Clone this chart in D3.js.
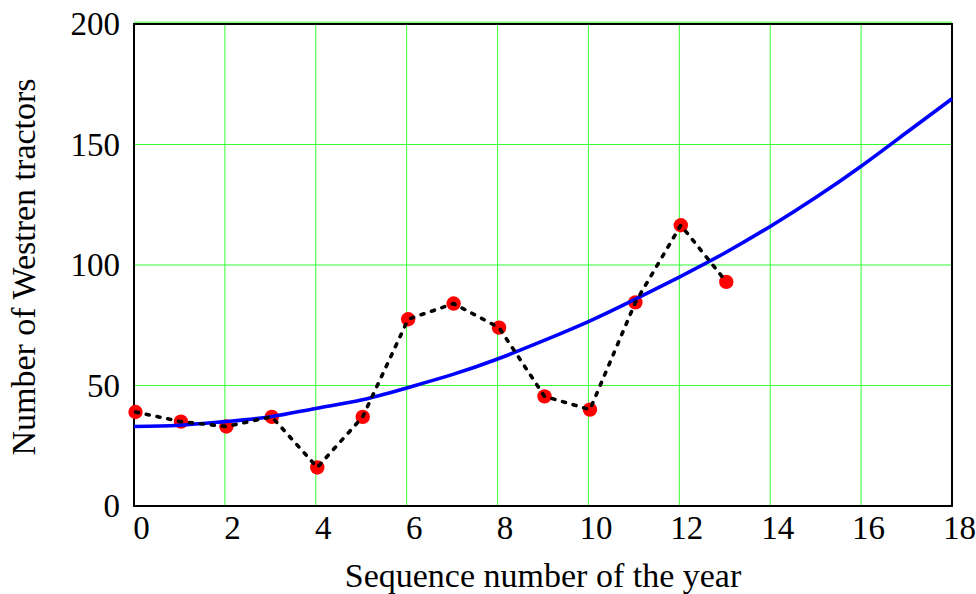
<!DOCTYPE html>
<html>
<head>
<meta charset="utf-8">
<script src="https://cdn.jsdelivr.net/npm/d3@7"></script>
<style>
body { margin: 0; background: #fff; }
text { font-family: "Liberation Serif", "Times New Roman", serif; fill: #000; }
</style>
</head>
<body>
<div id="vis"></div>
<script>
var w = 976,
    h = 594;

// observed counts per year
var years = [0, 1, 2, 3, 4, 5, 6, 7, 8, 9, 10, 11, 12, 13];
var tractors = [39, 35, 33, 37, 16, 37, 77.5, 84, 74, 45.5, 40, 84.5, 116.5, 93];

// fitted trend
var fitX = [0, 1, 2, 3, 4, 5, 6, 7, 8, 9, 10, 11, 12, 13, 14, 15, 16, 17, 18];
var fitY = [33, 33.5, 35, 37, 40.5, 44, 49, 54.5, 61, 68.5, 76.5, 85.5, 95, 105, 116, 128, 141, 155, 169];

var xTicks = [0, 2, 4, 6, 8, 10, 12, 14, 16, 18];
var yTicks = [0, 50, 100, 150, 200];

var m = {top: 24, right: 24, bottom: 88, left: 134};
var iw = w - m.left - m.right,
    ih = h - m.top - m.bottom;

var x = d3.scaleLinear().domain([0, 18]).range([0, iw]);
var y = d3.scaleLinear().domain([0, 200]).range([ih, 0]);

var svg = d3.select("#vis").append("svg")
    .attr("width", w)
    .attr("height", h);

var vis = svg.append("g")
    .attr("transform", "translate(" + m.left + "," + m.top + ")");

// grid
vis.selectAll("line.vgrid")
    .data(xTicks.slice(1, -1))
    .enter().append("line")
    .attr("class", "vgrid")
    .attr("x1", function(d){ return x(d); })
    .attr("x2", function(d){ return x(d); })
    .attr("y1", 0)
    .attr("y2", ih)
    .style("stroke", "#33ff33")
    .style("stroke-width", 1);

vis.selectAll("line.hgrid")
    .data(yTicks.slice(1))
    .enter().append("line")
    .attr("class", "hgrid")
    .attr("x1", 0)
    .attr("x2", iw)
    .attr("y1", function(d){ return d == 200 ? y(d) - 1.5 : y(d); })
    .attr("y2", function(d){ return d == 200 ? y(d) - 1.5 : y(d); })
    .style("stroke", function(d){ return d == 200 ? "#77ff77" : "#33ff33"; })
    .style("stroke-width", function(d){ return d == 200 ? 2 : 1; });

// frame
vis.append("rect")
    .attr("x", 0)
    .attr("y", 0)
    .attr("width", iw)
    .attr("height", ih)
    .style("fill", "none")
    .style("stroke", "#000")
    .style("stroke-width", 2);

// axes
var xAxis = vis.append("g")
    .attr("transform", "translate(0," + ih + ")")
    .call(d3.axisBottom(x).tickValues(xTicks).tickSize(0).tickPadding(0));
xAxis.select(".domain").remove();
xAxis.selectAll("text")
    .attr("dx", 7)
    .attr("dy", 33)
    .style("font-size", "33px")
    .style("font-family", "'Liberation Serif', serif");

var yAxis = vis.append("g")
    .call(d3.axisLeft(y).tickValues(yTicks).tickSize(0).tickPadding(14));
yAxis.select(".domain").remove();
yAxis.selectAll("text")
    .attr("dy", "0.33em")
    .style("font-size", "33px")
    .style("font-family", "'Liberation Serif', serif");

// points
vis.selectAll("circle.pt")
    .data(years)
    .enter().append("circle")
    .attr("class", "pt")
    .attr("cx", function(d){ return x(d) + 1.5; })
    .attr("cy", function(d, i){ return y(tractors[i]); })
    .attr("r", 7.2)
    .style("fill", "#ff0000");

// fitted curve
var fitLine = d3.line()
    .x(function(d){ return x(d); })
    .y(function(d, i){ return y(fitY[i]); })
    .curve(d3.curveNatural);

vis.append("path")
    .attr("d", fitLine(fitX))
    .style("fill", "none")
    .style("stroke", "#0000ff")
    .style("stroke-width", 3.6);

// dotted line joining the observations
var dataLine = d3.line()
    .x(function(d){ return x(d) + 1.5; })
    .y(function(d, i){ return y(tractors[i]); });

vis.append("path")
    .attr("d", dataLine(years))
    .style("fill", "none")
    .style("stroke", "#000")
    .style("stroke-width", 3.6)
    .style("stroke-linecap", "round")
    .style("stroke-dasharray", "3,8");

// titles
svg.append("text")
    .attr("x", m.left + iw / 2)
    .attr("y", 587)
    .attr("text-anchor", "middle")
    .style("font-size", "34px")
    .text("Sequence number of the year");

svg.append("text")
    .attr("transform", "translate(35," + (m.top + ih / 2 + 2) + ") rotate(-90)")
    .attr("text-anchor", "middle")
    .style("font-size", "34px")
    .text("Number of Westren tractors");
</script>
</body>
</html>
